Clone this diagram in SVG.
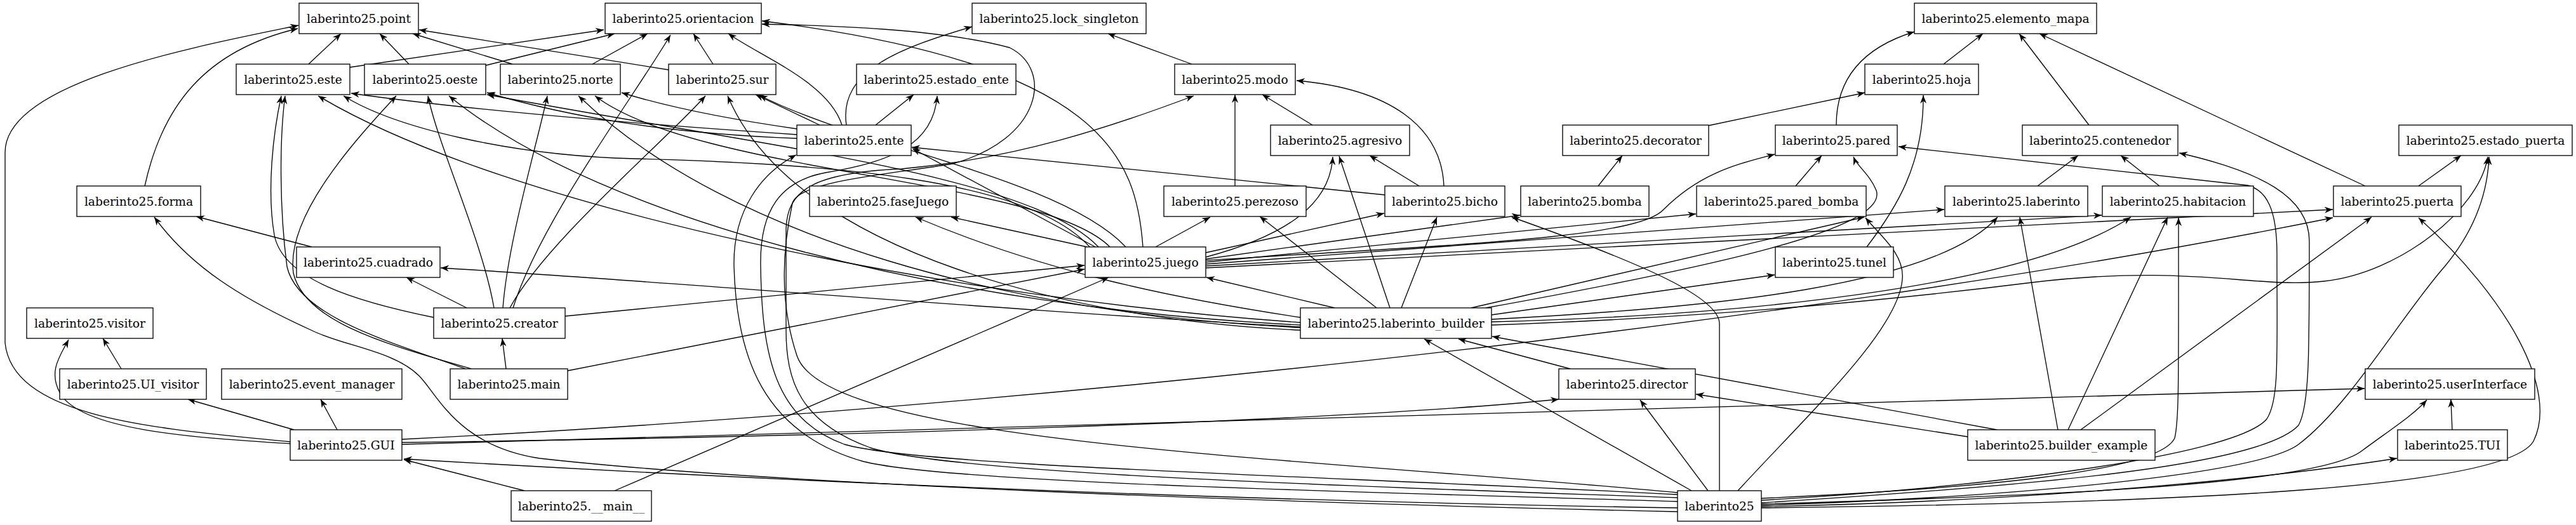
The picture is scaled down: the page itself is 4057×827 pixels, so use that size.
<svg xmlns="http://www.w3.org/2000/svg" width="4057" height="827" viewBox="0 0 4057 827">
<defs>
<marker id="arr" markerWidth="14" markerHeight="10" refX="13" refY="5" orient="auto" markerUnits="userSpaceOnUse" viewBox="0 0 14 10"><path d="M0,0 L13,5 L0,10 L4,5 z" fill="#000"/></marker>
</defs>
<style>
.n rect{fill:#fff;stroke:#000;stroke-width:1.33}
.n text{font-family:"DejaVu Serif",serif;font-size:18.67px;text-anchor:middle;fill:#000}
#edges path{fill:none;stroke:#000;stroke-width:1.33;marker-end:url(#arr)}
</style>
<rect width="4057" height="827" fill="#fff"/>
<g id="edges">
<path d="M486,101 L537,53"/>
<path d="M551,106 L951,47"/>
<path d="M644,101 L598,53"/>
<path d="M765,103 L968,53"/>
<path d="M807,101 L650,53"/>
<path d="M933,101 L1020,53"/>
<path d="M1053,110 L660,47"/>
<path d="M1123,101 L1092,53"/>
<path d="M1877,101 L1745,53"/>
<path d="M3061,101 L3123,53"/>
<path d="M2690,198 L2937,146"/>
<path d="M1291,197 L1190,149"/>
<path d="M1326,197 C1305,130 1200,90 1147,53"/>
<path d="M1333,197 C1320,110 1420,75 1531,42"/>
<path d="M1379,197 L1439,149"/>
<path d="M2067,197 L1988,149"/>
<path d="M2892,197 C2892,110 2950,70 3015,50"/>
<path d="M3290,197 L3180,53"/>
<path d="M1255,212 C1000,195 750,175 553,147"/>
<path d="M1255,218 C1050,210 900,185 767,146"/>
<path d="M1255,203 C1150,188 1050,168 979,146"/>
<path d="M1945,293 L1945,149"/>
<path d="M2235,293 L2157,245"/>
<path d="M2274,293 C2270,200 2190,140 2042,127"/>
<path d="M2181,307 L1436,232"/>
<path d="M2517,293 L2555,245"/>
<path d="M2828,293 L2869,245"/>
<path d="M3209,293 L3273,245"/>
<path d="M3401,293 L3340,245"/>
<path d="M3725,293 L3212,53"/>
<path d="M3809,293 L3876,245"/>
<path d="M491,389 L309,341"/>
<path d="M228,293 C255,170 320,80 469,45"/>
<path d="M2940,389 C2985,330 3030,260 3029,150"/>
<path d="M191,581 L162,533"/>
<path d="M797,581 L791,533"/>
<path d="M531,677 L505,629"/>
<path d="M463,677 L296,629"/>
<path d="M457,699 C320,690 130,680 95,620 C75,585 95,560 108,535"/>
<path d="M457,696 C250,675 20,660 8,540 L8,240 C8,130 300,75 470,40"/>
<path d="M3862,677 L3860,629"/>
<path d="M735,485 L640,437"/>
<path d="M683,500 C560,475 445,440 432,370 C420,300 430,210 443,151"/>
<path d="M778,485 C760,380 690,230 674,151"/>
<path d="M792,485 C800,380 845,230 862,151"/>
<path d="M803,485 C860,380 1050,220 1111,151"/>
<path d="M808,485 C850,350 1000,150 1056,55"/>
<path d="M890,498 L1708,418"/>
<path d="M733,581 C620,540 470,500 452,420 C440,330 440,220 449,151"/>
<path d="M742,581 C620,545 480,510 462,430 C450,340 560,220 624,151"/>
<path d="M894,584 L1708,424"/>
<path d="M826,773 L636,724"/>
<path d="M968,773 L1746,437"/>
<path d="M633,697 C1300,688 2100,665 2455,629"/>
<path d="M633,700 L3724,612"/>
<path d="M633,692 C1500,650 2800,520 3674,343"/>
<path d="M2102,485 L1900,437"/>
<path d="M2168,485 L1984,341"/>
<path d="M2189,485 L2109,246"/>
<path d="M2207,485 L2263,342"/>
<path d="M2048,500 C1850,470 1650,430 1442,342"/>
<path d="M2048,515 C1600,490 1000,440 694,422"/>
<path d="M2048,508 C1500,470 800,330 501,151"/>
<path d="M2048,512 C1500,485 950,350 707,151"/>
<path d="M2048,516 C1600,495 1150,380 911,151"/>
<path d="M2048,520 C1700,505 1250,400 1146,151"/>
<path d="M2349,496 L2795,433"/>
<path d="M2317,485 L2936,342"/>
<path d="M2340,485 C2700,420 2975,360 2955,300 C2945,275 2925,262 2919,247"/>
<path d="M2349,503 C2700,485 3050,450 3146,342"/>
<path d="M2349,507 C2800,495 3200,445 3356,342"/>
<path d="M2349,512 C2700,500 3000,470 3200,445 C3450,415 3550,455 3660,443 C3780,430 3905,330 3918,247"/>
<path d="M1712,389 L1498,342"/>
<path d="M1820,389 L1906,342"/>
<path d="M1899,398 L2180,336"/>
<path d="M1899,405 C2030,370 2095,320 2099,247"/>
<path d="M1899,408 L2394,339"/>
<path d="M1899,410 C2300,385 2580,375 2620,330 C2680,270 2740,258 2795,243"/>
<path d="M1899,413 L2671,337"/>
<path d="M1899,416 L3062,330"/>
<path d="M1899,419 L3310,339"/>
<path d="M1899,422 L3674,330"/>
<path d="M1725,389 L1437,234"/>
<path d="M1800,389 C1790,250 1740,100 1200,33"/>
<path d="M1717,390 C1620,280 1300,258 1000,250 C800,245 620,200 541,151"/>
<path d="M1730,389 C1620,275 1200,230 767,149"/>
<path d="M1748,389 C1640,280 1100,275 937,151"/>
<path d="M1773,389 C1670,280 1350,230 1196,150"/>
<path d="M2664,773 L2243,534"/>
<path d="M2690,773 L2583,630"/>
<path d="M2708,773 L2708,510 C2708,470 2600,420 2381,342"/>
<path d="M2737,773 C2850,650 2990,520 2996,440 C3000,400 2960,370 2938,343"/>
<path d="M2774,788 C3100,770 3520,720 3570,660 C3590,630 3586,560 3586,400 C3586,330 3570,300 3540,292 L2990,231"/>
<path d="M2774,792 C3200,765 3560,735 3620,670 C3637,640 3637,560 3637,380 C3637,310 3560,270 3432,241"/>
<path d="M2774,785 C3100,770 3400,745 3425,690 C3432,660 3431,600 3431,343"/>
<path d="M2774,796 C3200,782 3560,745 3620,700 C3700,640 3780,500 3850,420 C3900,360 3918,300 3920,247"/>
<path d="M2774,800 C3500,792 3950,765 3990,695 C4030,615 3950,470 3809,343"/>
<path d="M2774,794 C3200,782 3650,765 3720,710 C3760,680 3800,655 3822,630"/>
<path d="M2774,798 C3100,792 3500,765 3775,722"/>
<path d="M2642,800 C2000,790 1300,762 636,723"/>
<path d="M2642,806 C2000,792 1200,762 850,722 C720,702 690,622 660,592 C620,552 540,545 490,520 C380,470 300,420 243,342"/>
<path d="M2642,790 C2200,776 1500,762 1360,727 C1200,682 1160,560 1156,420 C1154,330 1200,272 1254,244"/>
<path d="M2642,784 C2200,768 1500,748 1370,705 C1260,665 1238,600 1238,520 L1238,360 C1240,300 1280,272 1420,266 C1600,250 1750,200 1880,151"/>
<path d="M2642,779 C2100,750 1450,735 1330,700 C1220,660 1200,560 1198,420 C1196,330 1230,285 1300,272 C1400,255 1470,230 1476,151"/>
<path d="M2642,776 C2050,720 1300,700 1255,560 C1225,470 1235,380 1248,320 C1258,285 1400,275 1500,258 C1640,220 1660,110 1590,75 C1480,45 1300,40 1200,38"/>
<path d="M3099,688 L2671,621"/>
<path d="M3145,677 L2350,530"/>
<path d="M3241,677 L3181,342"/>
<path d="M3257,677 L3414,342"/>
<path d="M3277,677 L3735,342"/>
<path d="M2473,581 L2297,534"/>
</g>
<g id="n_point" class="n"><rect x="471" y="5" width="188" height="48"/><text x="565" y="35.5">laberinto25.point</text></g>
<g id="n_orientacion" class="n"><rect x="953" y="5" width="246" height="48"/><text x="1076" y="35.5">laberinto25.orientacion</text></g>
<g id="n_lock_singleton" class="n"><rect x="1531" y="5" width="274" height="48"/><text x="1668" y="35.5">laberinto25.lock_singleton</text></g>
<g id="n_elemento_mapa" class="n"><rect x="3015" y="5" width="287" height="48"/><text x="3158.5" y="35.5">laberinto25.elemento_mapa</text></g>
<g id="n_este" class="n"><rect x="372" y="101" width="179" height="48"/><text x="461.5" y="131.5">laberinto25.este</text></g>
<g id="n_oeste" class="n"><rect x="574" y="101" width="191" height="48"/><text x="669.5" y="131.5">laberinto25.oeste</text></g>
<g id="n_norte" class="n"><rect x="788" y="101" width="189" height="48"/><text x="882.5" y="131.5">laberinto25.norte</text></g>
<g id="n_sur" class="n"><rect x="1053" y="101" width="169" height="48"/><text x="1137.5" y="131.5">laberinto25.sur</text></g>
<g id="n_estado_ente" class="n"><rect x="1349" y="101" width="251" height="48"/><text x="1474.5" y="131.5">laberinto25.estado_ente</text></g>
<g id="n_modo" class="n"><rect x="1850" y="101" width="190" height="48"/><text x="1945" y="131.5">laberinto25.modo</text></g>
<g id="n_hoja" class="n"><rect x="2937" y="101" width="179" height="48"/><text x="3026.5" y="131.5">laberinto25.hoja</text></g>
<g id="n_ente" class="n"><rect x="1255" y="197" width="180" height="48"/><text x="1345" y="227.5">laberinto25.ente</text></g>
<g id="n_agresivo" class="n"><rect x="2001" y="197" width="219" height="48"/><text x="2110.5" y="227.5">laberinto25.agresivo</text></g>
<g id="n_decorator" class="n"><rect x="2461" y="197" width="230" height="48"/><text x="2576" y="227.5">laberinto25.decorator</text></g>
<g id="n_pared" class="n"><rect x="2796" y="197" width="192" height="48"/><text x="2892" y="227.5">laberinto25.pared</text></g>
<g id="n_contenedor" class="n"><rect x="3185" y="197" width="245" height="48"/><text x="3307.5" y="227.5">laberinto25.contenedor</text></g>
<g id="n_estado_puerta" class="n"><rect x="3778" y="197" width="273" height="48"/><text x="3914.5" y="227.5">laberinto25.estado_puerta</text></g>
<g id="n_forma" class="n"><rect x="121" y="293" width="195" height="48"/><text x="218.5" y="323.5">laberinto25.forma</text></g>
<g id="n_faseJuego" class="n"><rect x="1275" y="293" width="231" height="48"/><text x="1390.5" y="323.5">laberinto25.faseJuego</text></g>
<g id="n_perezoso" class="n"><rect x="1833" y="293" width="224" height="48"/><text x="1945" y="323.5">laberinto25.perezoso</text></g>
<g id="n_bicho" class="n"><rect x="2181" y="293" width="189" height="48"/><text x="2275.5" y="323.5">laberinto25.bicho</text></g>
<g id="n_bomba" class="n"><rect x="2395" y="293" width="202" height="48"/><text x="2496" y="323.5">laberinto25.bomba</text></g>
<g id="n_pared_bomba" class="n"><rect x="2672" y="293" width="267" height="48"/><text x="2805.5" y="323.5">laberinto25.pared_bomba</text></g>
<g id="n_laberinto" class="n"><rect x="3063" y="293" width="225" height="48"/><text x="3175.5" y="323.5">laberinto25.laberinto</text></g>
<g id="n_habitacion" class="n"><rect x="3311" y="293" width="238" height="48"/><text x="3430" y="323.5">laberinto25.habitacion</text></g>
<g id="n_puerta" class="n"><rect x="3675" y="293" width="201" height="48"/><text x="3775.5" y="323.5">laberinto25.puerta</text></g>
<g id="n_cuadrado" class="n"><rect x="467" y="389" width="226" height="48"/><text x="580" y="419.5">laberinto25.cuadrado</text></g>
<g id="n_juego" class="n"><rect x="1709" y="389" width="190" height="48"/><text x="1804" y="419.5">laberinto25.juego</text></g>
<g id="n_tunel" class="n"><rect x="2796" y="389" width="186" height="48"/><text x="2889" y="419.5">laberinto25.tunel</text></g>
<g id="n_visitor" class="n"><rect x="42" y="485" width="199" height="48"/><text x="141.5" y="515.5">laberinto25.visitor</text></g>
<g id="n_creator" class="n"><rect x="683" y="485" width="207" height="48"/><text x="786.5" y="515.5">laberinto25.creator</text></g>
<g id="n_laberinto_builder" class="n"><rect x="2048" y="485" width="301" height="48"/><text x="2198.5" y="515.5">laberinto25.laberinto_builder</text></g>
<g id="n_UI_visitor" class="n"><rect x="94" y="581" width="231" height="48"/><text x="209.5" y="611.5">laberinto25.UI_visitor</text></g>
<g id="n_event_manager" class="n"><rect x="349" y="581" width="284" height="48"/><text x="491" y="611.5">laberinto25.event_manager</text></g>
<g id="n_main" class="n"><rect x="709" y="581" width="185" height="48"/><text x="801.5" y="611.5">laberinto25.main</text></g>
<g id="n_director" class="n"><rect x="2455" y="581" width="215" height="48"/><text x="2562.5" y="611.5">laberinto25.director</text></g>
<g id="n_userInterface" class="n"><rect x="3725" y="581" width="267" height="48"/><text x="3858.5" y="611.5">laberinto25.userInterface</text></g>
<g id="n_GUI" class="n"><rect x="457" y="677" width="176" height="48"/><text x="545" y="707.5">laberinto25.GUI</text></g>
<g id="n_builder_example" class="n"><rect x="3099" y="677" width="295" height="48"/><text x="3246.5" y="707.5">laberinto25.builder_example</text></g>
<g id="n_TUI" class="n"><rect x="3776" y="677" width="173" height="48"/><text x="3862.5" y="707.5">laberinto25.TUI</text></g>
<g id="n___main__" class="n"><rect x="805" y="773" width="221" height="48"/><text x="915.5" y="803.5">laberinto25.__main__</text></g>
<g id="n_laberinto25" class="n"><rect x="2642" y="773" width="132" height="48"/><text x="2708" y="803.5">laberinto25</text></g>
</svg>
